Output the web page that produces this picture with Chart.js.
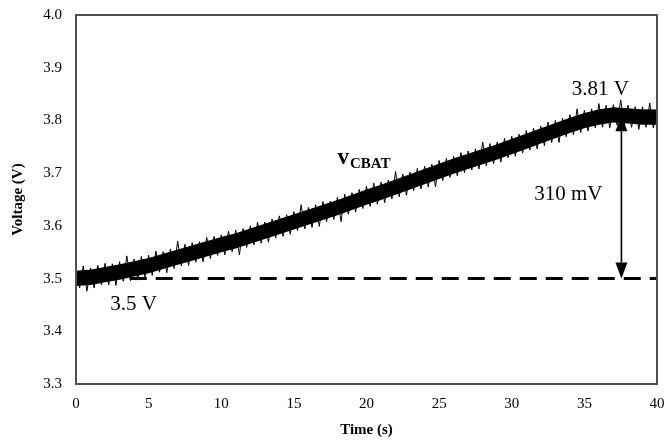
<!DOCTYPE html>
<html>
<head>
<meta charset="utf-8">
<script src="https://cdn.jsdelivr.net/npm/chart.js@4"></script>
<style>
  html, body { margin: 0; padding: 0; background: #fff; }
  #wrap { width: 665px; height: 440px; }
</style>
</head>
<body>
<div id="wrap"><canvas id="voltChart"></canvas></div>
<script>
const sampleStep = 0.25;
const voltage = [
  3.520, 3.482, 3.524, 3.476,  3.520, 3.482, 3.525, 3.488,
  3.529, 3.488, 3.528, 3.487,  3.532, 3.495, 3.543, 3.496,
  3.537, 3.497, 3.542, 3.503,  3.544, 3.506, 3.552, 3.512,
  3.551, 3.511, 3.556, 3.519,  3.571, 3.524, 3.565, 3.525,
  3.568, 3.531, 3.570, 3.532,  3.578, 3.538, 3.580, 3.544,
  3.583, 3.545, 3.590, 3.551,  3.592, 3.545, 3.595, 3.559,
  3.600, 3.564, 3.607, 3.567,  3.607, 3.569, 3.613, 3.577,
  3.619, 3.580, 3.621, 3.584,  3.627, 3.591, 3.640, 3.594,
  3.635, 3.597, 3.640, 3.599,  3.646, 3.608, 3.647, 3.612,
  3.654, 3.608, 3.660, 3.622,  3.663, 3.626, 3.669, 3.633,
  3.675, 3.637, 3.681, 3.641,  3.683, 3.644, 3.687, 3.651,
  3.703, 3.655, 3.698, 3.658,  3.702, 3.667, 3.709, 3.670,
  3.713, 3.674, 3.717, 3.674,  3.724, 3.686, 3.728, 3.692,
  3.732, 3.695, 3.739, 3.701,  3.742, 3.706, 3.746, 3.708,
  3.759, 3.714, 3.756, 3.718,  3.759, 3.721, 3.766, 3.729,
  3.770, 3.732, 3.774, 3.738,  3.781, 3.744, 3.785, 3.746,
  3.789, 3.752, 3.797, 3.758,  3.800, 3.758, 3.804, 3.769,
  3.811, 3.773, 3.822, 3.777,  3.819, 3.780, 3.822, 3.786,
  3.832, 3.787, 3.829, 3.786,  3.830, 3.791, 3.839, 3.789,
  3.829, 3.787, 3.826, 3.783,  3.826, 3.787, 3.833, 3.786,
  3.824
];

// solid core of the noisy trace, one value per second
const bandStep = 1;
const bandTop = [
  3.514, 3.516, 3.521, 3.526, 3.532, 3.538, 3.546, 3.554, 3.562, 3.570,
  3.578, 3.585, 3.594, 3.603, 3.612, 3.621, 3.630, 3.639, 3.648, 3.658,
  3.668, 3.677, 3.687, 3.697, 3.707, 3.717, 3.727, 3.736, 3.745, 3.754,
  3.764, 3.774, 3.784, 3.794, 3.804, 3.813, 3.820, 3.824, 3.822, 3.820,
  3.820
];
const bandBottom = [
  3.486, 3.488, 3.493, 3.498, 3.504, 3.510, 3.518, 3.526, 3.534, 3.542,
  3.550, 3.557, 3.566, 3.575, 3.584, 3.593, 3.602, 3.611, 3.620, 3.630,
  3.640, 3.649, 3.659, 3.669, 3.679, 3.689, 3.699, 3.708, 3.717, 3.726,
  3.736, 3.746, 3.756, 3.766, 3.776, 3.785, 3.792, 3.796, 3.794, 3.792,
  3.792
];

const xTicks = [0, 5, 10, 15, 20, 25, 30, 35, 40];
const yTicks = [3.3, 3.4, 3.5, 3.6, 3.7, 3.8, 3.9, 4.0];

// reference level (dashed) and the 310 mV span arrow
const refStart = 3.7, refEnd = 40, refLevel = 3.5;
const arrowTime = 37.55, arrowTop = 3.81, arrowBottom = 3.5;

const notes = [
  { text: '3.81 V', t: 36.1, v: 3.859 },
  { text: '310 mV', t: 33.9, v: 3.659 },
  { text: '3.5 V',  t: 3.96, v: 3.45 }
];
const traceLabel = { main: 'v', sub: 'CBAT', t: 18.0, v: 3.717 };

const points = voltage.map((v, i) => ({ x: i * sampleStep, y: v }));
const topPts = bandTop.map((v, i) => ({ x: i * bandStep, y: v }));
const bottomPts = bandBottom.map((v, i) => ({ x: i * bandStep, y: v }));

const SERIF = '"Liberation Serif", "Times New Roman", serif';

const annotations = {
  id: 'annotations',
  afterDatasetsDraw(chart) {
    const { ctx, chartArea: a, scales: { x, y } } = chart;
    ctx.save();

    // arrow with two filled heads
    const ax = x.getPixelForValue(arrowTime);
    const y1 = y.getPixelForValue(arrowTop);
    const y2 = y.getPixelForValue(arrowBottom);
    const hh = 16, hw = 6;
    ctx.strokeStyle = '#000';
    ctx.fillStyle = '#000';
    ctx.lineWidth = 1.6;
    ctx.beginPath();
    ctx.moveTo(ax, y1 + hh);
    ctx.lineTo(ax, y2 - hh);
    ctx.stroke();
    ctx.beginPath();
    ctx.moveTo(ax, y1); ctx.lineTo(ax - hw, y1 + hh); ctx.lineTo(ax + hw, y1 + hh);
    ctx.closePath(); ctx.fill();
    ctx.beginPath();
    ctx.moveTo(ax, y2); ctx.lineTo(ax - hw, y2 - hh); ctx.lineTo(ax + hw, y2 - hh);
    ctx.closePath(); ctx.fill();

    // text notes
    ctx.font = '21px ' + SERIF;
    ctx.textAlign = 'center';
    ctx.textBaseline = 'middle';
    notes.forEach(n => {
      ctx.fillText(n.text, x.getPixelForValue(n.t), y.getPixelForValue(n.v));
    });

    // v_CBAT label
    const lx = x.getPixelForValue(traceLabel.t);
    const ly = y.getPixelForValue(traceLabel.v);
    ctx.textAlign = 'left';
    ctx.textBaseline = 'alphabetic';
    ctx.font = 'bold 23px ' + SERIF;
    ctx.fillText(traceLabel.main, lx, ly);
    const w = ctx.measureText(traceLabel.main).width;
    ctx.font = 'bold 15px ' + SERIF;
    ctx.fillText(traceLabel.sub, lx + w + 1, ly + 4);

    // plot frame
    ctx.strokeStyle = '#505050';
    ctx.lineWidth = 2;
    ctx.strokeRect(a.left, a.top, a.right - a.left, a.bottom - a.top);
    ctx.restore();
  }
};

new Chart(document.getElementById('voltChart'), {
  type: 'line',
  data: {
    datasets: [
      {
        label: 'core low',
        data: bottomPts,
        borderWidth: 0,
        pointRadius: 0,
        fill: false
      },
      {
        label: 'core high',
        data: topPts,
        borderColor: '#000',
        borderWidth: 1,
        backgroundColor: '#000',
        pointRadius: 0,
        fill: '-1'
      },
      {
        label: 'vCBAT',
        data: points,
        borderColor: '#000',
        borderWidth: 1,
        pointRadius: 0,
        tension: 0
      },
      {
        label: '3.5 V',
        data: [{ x: refStart, y: refLevel }, { x: refEnd, y: refLevel }],
        borderColor: '#000',
        borderWidth: 3,
        borderDash: [17, 9],
        pointRadius: 0
      }
    ]
  },
  options: {
    responsive: true,
    maintainAspectRatio: false,
    animation: false,
    layout: { padding: { left: 0, top: 15, right: 8, bottom: 0 } },
    plugins: { legend: { display: false }, tooltip: { enabled: false } },
    scales: {
      x: {
        type: 'linear',
        min: xTicks[0],
        max: xTicks[xTicks.length - 1],
        afterBuildTicks: s => { s.ticks = xTicks.map(v => ({ value: v })); },
        afterFit: s => { s.height = 56; s.paddingLeft = 0; s.paddingRight = 0; },
        grid: { display: false, drawTicks: false },
        border: { display: false },
        ticks: { color: '#000', padding: 11, font: { family: SERIF, size: 15 }, maxRotation: 0 },
        title: { display: true, text: 'Time (s)', color: '#000', padding: { bottom: 1 },
                 font: { family: SERIF, size: 15, weight: 'bold' } }
      },
      y: {
        min: yTicks[0],
        max: yTicks[yTicks.length - 1],
        afterBuildTicks: s => { s.ticks = yTicks.map(v => ({ value: v })); },
        afterFit: s => { s.width = 76; s.paddingTop = 0; s.paddingBottom = 0; },
        grid: { display: false, drawTicks: false },
        border: { display: false },
        ticks: { color: '#000', padding: 14, font: { family: SERIF, size: 15 },
                 callback: v => v.toFixed(1) },
        title: { display: true, text: 'Voltage (V)', color: '#000', padding: { top: 9 },
                 font: { family: SERIF, size: 15, weight: 'bold' } }
      }
    }
  },
  plugins: [annotations]
});
</script>
</body>
</html>
